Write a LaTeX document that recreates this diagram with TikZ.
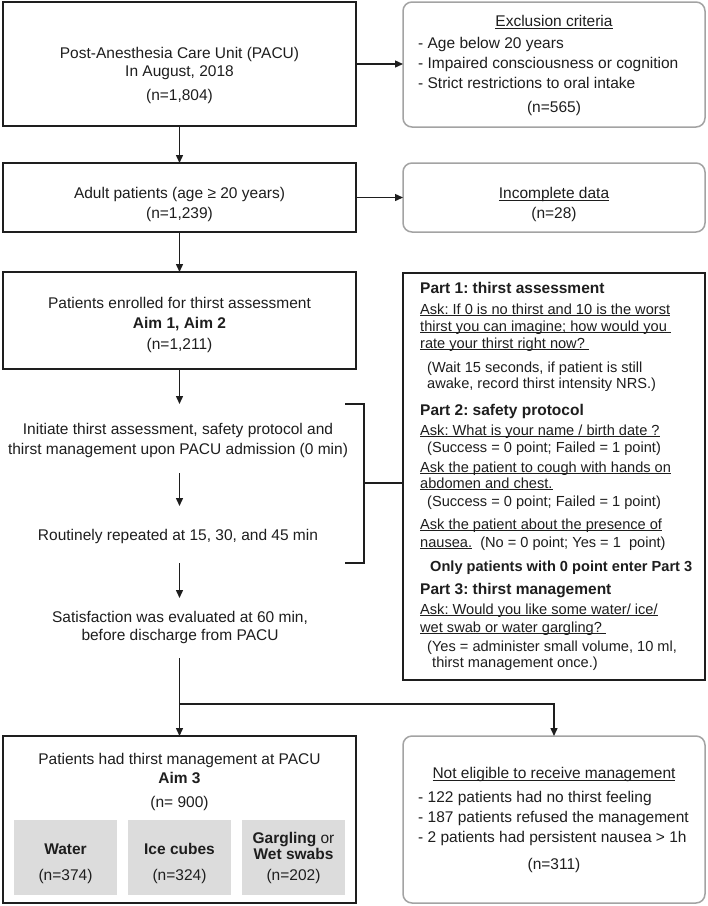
\documentclass[tikz,border=0pt]{standalone}
\usepackage{fontspec}
\setmainfont{Liberation Sans}
\usetikzlibrary{arrows.meta}
\definecolor{cellgray}{HTML}{DCDCDC}
\definecolor{rndgray}{HTML}{A3A3A3}
\definecolor{ink}{HTML}{1E1E1E}
\newcommand\fa{\fontsize{15.5}{18}\selectfont}
\newcommand\fb{\fontsize{14.6}{17}\selectfont}
\newcommand\myul[1]{\setbox0\hbox{#1}\rlap{\rule[-1.9pt]{\wd0}{0.8pt}}\box0}
\frenchspacing
\begin{document}
\begin{tikzpicture}[x=1pt,y=-1pt,
  box/.style={draw=ink, line width=1.6pt, inner sep=0, outer sep=0},
  rbox/.style={draw=rndgray, line width=1.5pt, rounded corners=9pt, inner sep=0, outer sep=0},
  cell/.style={fill=cellgray, draw=none, inner sep=0, minimum width=103, minimum height=75},
  t/.style={anchor=base, inner sep=0, font=\fa, text=ink},
  tl/.style={anchor=base west, inner sep=0, font=\fa, text=ink},
  ph/.style={anchor=base west, inner sep=0, font=\fa\bfseries, text=ink},
  pb/.style={anchor=base west, inner sep=0, font=\fb, text=ink},
  arr/.style={-{Triangle[length=8pt,width=7pt]}, line width=1.4pt, draw=ink},
  ln/.style={line width=1.4pt, draw=ink}]
\path[fill=white, use as bounding box] (0,0) rectangle (708,906);

% boxes
\node[box, minimum width=353, minimum height=124] (b1) at (179.5,64) {};
\node[rbox, minimum width=302, minimum height=125] (ex) at (554,64.5) {};
\node[box, minimum width=353, minimum height=69] (b2) at (179.5,197.5) {};
\node[rbox, minimum width=302, minimum height=69] (inc) at (554,197.5) {};
\node[box, minimum width=353, minimum height=97] (b3) at (179.5,320.5) {};
\node[box, line width=1.5pt, minimum width=302, minimum height=407] (part) at (554,476.5) {};
\node[box, minimum width=353, minimum height=167] (mg) at (179.5,819.5) {};
\node[rbox, minimum width=302, minimum height=167] (ne) at (554,819.5) {};
\node[cell] (water) at (65.5,857.5) {};
\node[cell] (ice) at (179.5,857.5) {};
\node[cell] (garg) at (293.5,857.5) {};

% box 1
\node[t] (b1a) at (179.5,58.5) {Post-Anesthesia Care Unit (PACU)};
\node[t] (b1b) at (179.5,76.5) {In August, 2018};
\node[t] (b1c) at (179.5,100.5) {(n=1,804)};
% exclusion
\node[t] (exa) at (554,26.5) {\myul{Exclusion criteria}};
\node[tl] (exb) at (418,48.5) {- Age below 20 years};
\node[tl] (exc) at (418,68.5) {- Impaired consciousness or cognition};
\node[tl] (exd) at (418,88.5) {- Strict restrictions to oral intake};
\node[t] (exe) at (554,112.5) {(n=565)};
% box 2
\node[t] (b2a) at (179.5,198.5) {Adult patients (age ≥ 20 years)};
\node[t] (b2b) at (179.5,218.5) {(n=1,239)};
% incomplete
\node[t] (inca) at (554,198.5) {\myul{Incomplete data}};
\node[t] (incb) at (554,218.5) {(n=28)};
% box 3
\node[t] (b3a) at (179.5,308.5) {Patients enrolled for thirst assessment};
\node[t] (b3b) at (179.5,328.5) {\bfseries Aim 1, Aim 2};
\node[t] (b3c) at (179.5,349.5) {(n=1,211)};
% flow texts
\node[t] (fa) at (178,434.5) {Initiate thirst assessment, safety protocol and};
\node[t] (fb) at (178,454.5) {thirst management upon PACU admission (0 min)};
\node[t] (fc) at (178,540.5) {Routinely repeated at 15, 30, and 45 min};
\node[t] (fd) at (180,622.5) {Satisfaction was evaluated at 60 min,};
\node[t] (fe) at (180,640.5) {before discharge from PACU};

% part box
\node[ph] (p1) at (420,293.5) {Part 1: thirst assessment};
\node[pb] (p1a) at (420,314.2) {\myul{Ask: If 0 is no thirst and 10 is the worst}};
\node[pb] (p1b) at (420,331.2) {\myul{thirst you can imagine; how would you\ }};
\node[pb] (p1c) at (420,348.2) {\myul{rate your thirst right now?\ }};
\node[pb] (p1d) at (427,372.2) {(Wait 15 seconds, if patient is still};
\node[pb] (p1e) at (427,388.2) {awake, record thirst intensity NRS.)};
\node[ph] (p2) at (420,415.5) {Part 2: safety protocol};
\node[pb] (p2a) at (420,435.2) {\myul{Ask: What is your name / birth date ?}};
\node[pb] (p2b) at (427,452.2) {(Success = 0 point; Failed = 1 point)};
\node[pb] (p2c) at (420,472.2) {\myul{Ask the patient to cough with hands on}};
\node[pb] (p2d) at (420,488.2) {\myul{abdomen and chest.}};
\node[pb] (p2e) at (427,506.2) {(Success = 0 point; Failed = 1 point)};
\node[pb] (p2f) at (420,529.2) {\myul{Ask the patient about the presence of}};
\node[pb] (p2g) at (420,547.2) {\myul{nausea.}\ \ (No = 0 point; Yes = 1\ \ point)};
\node[pb, font=\fb\bfseries] (p2h) at (430,571.2) {Only patients with 0 point enter Part 3};
\node[ph] (p3) at (420,594.5) {Part 3: thirst management};
\node[pb] (p3a) at (420,614.2) {\myul{Ask: Would you like some water/ ice/}};
\node[pb] (p3b) at (420,632.2) {\myul{wet swab or water gargling?\ }};
\node[pb] (p3c) at (427,651.2) {(Yes = administer small volume, 10 ml,};
\node[pb] (p3d) at (432,667.2) {thirst management once.)};

% management box
\node[t] (mga) at (179.5,764.5) {Patients had thirst management at PACU};
\node[t] (mgb) at (179.5,783.5) {\bfseries Aim 3};
\node[t] (mgc) at (179.5,807.5) {(n= 900)};
\node[t] (wa) at (65.5,854.5) {\bfseries Water};
\node[t] (wb) at (65.5,880.5) {(n=374)};
\node[t] (ia) at (179.5,854.5) {\bfseries Ice cubes};
\node[t] (ib) at (179.5,880.5) {(n=324)};
\node[t] (ga) at (293.5,843.5) {\textbf{Gargling} or};
\node[t] (gb) at (293.5,859.5) {\bfseries Wet swabs};
\node[t] (gc) at (293.5,880.5) {(n=202)};
% not eligible
\node[t] (nea) at (554,778.5) {\myul{Not eligible to receive management}};
\node[tl] (neb) at (418,802.5) {- 122 patients had no thirst feeling};
\node[tl] (nec) at (418,822.5) {- 187 patients refused the management};
\node[tl] (ned) at (418,842.5) {- 2 patients had persistent nausea > 1h};
\node[t] (nee) at (554,869.5) {(n=311)};

% connectors
\coordinate (c1) at (179.5,404);
\coordinate (c2) at (179.5,473);
\coordinate (c3) at (179.5,506);
\coordinate (c4) at (179.5,563);
\coordinate (c5) at (179.5,598);
\coordinate (c6) at (179.5,658);
\coordinate (sp) at (179.5,704);
\coordinate (spr) at (554,704);
\draw[arr] (b1) -- (b2);
\draw[arr] (b1.east) -- (b1.east -| ex.west);
\draw[arr] (b2.east) -- (b2.east -| inc.west);
\draw[arr] (b2) -- (b3);
\draw[arr] (b3) -- (c1);
\draw[arr] (c2) -- (c3);
\draw[arr] (c4) -- (c5);
\draw[arr] (c6) -- (mg);
\draw[arr] (sp) -- (spr) -- (ne);
% bracket
\coordinate (bt) at (345,404);
\coordinate (btr) at (364,404);
\coordinate (bbr) at (364,563);
\coordinate (bb) at (345,563);
\coordinate (bm) at (364,483);
\draw[ln] (bt) -- (btr) -- (bbr) -- (bb);
\draw[ln] (bm) -- (bm -| part.west);
\end{tikzpicture}
\end{document}
